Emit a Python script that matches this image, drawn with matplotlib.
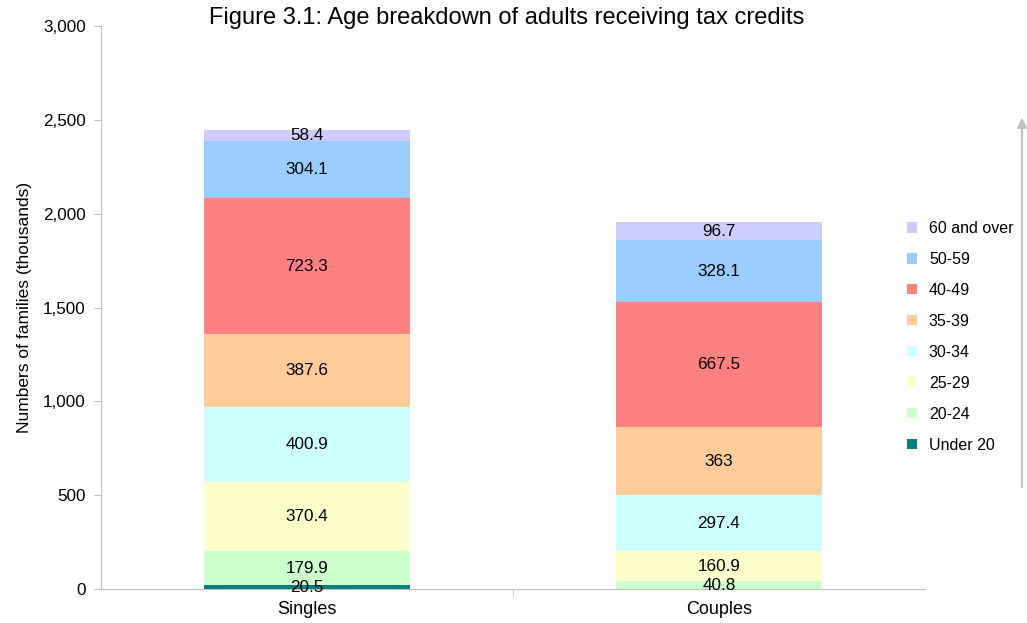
import numpy as np
import matplotlib.pyplot as plt
from matplotlib.patches import Patch, FancyArrowPatch

plt.rcParams['font.family'] = ['Liberation Sans', 'DejaVu Sans']

# data
groups = ['Singles', 'Couples']
ages = ['Under 20', '20-24', '25-29', '30-34', '35-39', '40-49', '50-59', '60 and over']
singles = [20.5, 179.9, 370.4, 400.9, 387.6, 723.3, 304.1, 58.4]
couples = [0, 40.8, 160.9, 297.4, 363, 667.5, 328.1, 96.7]
colors = ['#008080', '#CCFFCC', '#FFFFCC', '#CCFFFF', '#FFCC99', '#FF8080', '#99CCFF', '#CCCCFF']

fig = plt.figure(figsize=(10.27, 6.23), dpi=100)
ax = fig.add_axes([101 / 1027, 1 - 589 / 623, 824 / 1027, 563 / 623])

x = np.arange(len(groups))
vals = np.array([singles, couples])
bottom = np.zeros(len(groups))
for i, age in enumerate(ages):
    v = vals[:, i]
    ax.bar(x, v, width=0.5, bottom=bottom, color=colors[i], label=age)
    for j in range(len(groups)):
        if v[j] > 0:
            ax.text(x[j], bottom[j] + v[j] / 2, f'{v[j]:g}', ha='center', va='center',
                    fontsize=12.3, color='black')
    bottom += v

ax.set_xlim(-0.5, 1.5)
ax.set_ylim(0, 3000)
ax.set_yticks(np.arange(0, 3001, 500))
ax.set_yticklabels([f'{t:,}' for t in range(0, 3001, 500)], fontsize=12.3)
ax.set_xticks(x)
ax.set_xticks([0.5], minor=True)
ax.set_xticklabels(groups, fontsize=13)
ax.tick_params(axis='x', which='major', length=0, pad=9)
ax.tick_params(axis='x', which='minor', length=5, color='#BFBFBF')
ax.tick_params(axis='y', length=5, color='#BFBFBF', pad=6)
for s in ['top', 'right']:
    ax.spines[s].set_visible(False)
ax.spines['left'].set_color('#BFBFBF')
ax.spines['bottom'].set_color('#BFBFBF')
ax.set_ylabel('Numbers of families (thousands)', fontsize=12.5, labelpad=8)

fig.text(0.493, 0.971, 'Figure 3.1: Age breakdown of adults receiving tax credits',
         ha='center', va='center', fontsize=17)

handles = [Patch(facecolor=colors[i], label=ages[i]) for i in range(len(ages))][::-1]
fig.legend(handles=handles, loc='center left', bbox_to_anchor=(893 / 1027, 1 - 337 / 623),
           frameon=False, fontsize=11.5, handlelength=0.6, handleheight=0.6,
           handletextpad=0.75, labelspacing=1.0)

# grey arrow on the right
fig.patches.append(FancyArrowPatch(
    (1022 / 1027, 1 - 490 / 623), (1022 / 1027, 1 - 115 / 623),
    transform=fig.transFigure, arrowstyle='-|>', mutation_scale=14,
    color='#BFBFBF', lw=1.5))

fig.savefig('out.png', dpi=100)
